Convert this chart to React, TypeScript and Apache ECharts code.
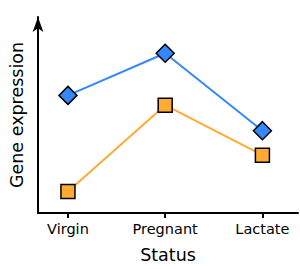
import React, { useEffect, useRef } from "react";
import * as echarts from "echarts";

const categories = ["Virgin", "Pregnant", "Lactate"];
const blueValues = [6.0, 8.15, 4.2];
const orangeValues = [1.1, 5.5, 2.95];

export default function App() {
  const ref = useRef<HTMLDivElement>(null);
  useEffect(() => {
    if (!ref.current) return;
    const chart = echarts.init(ref.current, null, { renderer: "svg" });
    const font = "DejaVu Sans";
    const idx = categories.map((_, i) => i);
    chart.setOption({
      animation: false,
      grid: { left: 37, right: 2, top: 17, bottom: 51, containLabel: false },
      xAxis: {
        type: "value",
        min: -0.308,
        max: 2.366,
        name: "Status",
        nameLocation: "middle",
        nameGap: 33,
        nameTextStyle: { fontFamily: font, fontSize: 17.5, color: "#000" },
        axisLine: { show: true, onZero: false, lineStyle: { color: "#000", width: 2 } },
        axisTick: { show: true, customValues: idx, length: 5, lineStyle: { color: "#000", width: 2 } },
        axisLabel: {
          show: true,
          customValues: idx,
          formatter: (v: number) => categories[Math.round(v)] ?? "",
          fontFamily: font,
          fontSize: 14.5,
          color: "#000",
          margin: 8,
        },
        splitLine: { show: false },
      },
      yAxis: {
        type: "value",
        min: 0,
        max: 10,
        name: "Gene expression",
        nameLocation: "middle",
        nameGap: 12,
        nameTextStyle: { fontFamily: font, fontSize: 17.5, color: "#000" },
        axisLine: {
          show: true,
          onZero: false,
          symbol: ["none", "arrow"],
          symbolSize: [8, 15],
          lineStyle: { color: "#000", width: 2 },
        },
        axisTick: { show: false },
        axisLabel: { show: false },
        splitLine: { show: false },
      },
      series: [
        {
          type: "line",
          data: idx.map((i) => [i, blueValues[i]]),
          symbol: "diamond",
          symbolSize: 18,
          lineStyle: { color: "#3388ff", width: 2 },
          itemStyle: { color: "#3388ff", borderColor: "#000", borderWidth: 1.5 },
          z: 3,
        },
        {
          type: "line",
          data: idx.map((i) => [i, orangeValues[i]]),
          symbol: "rect",
          symbolSize: 14,
          lineStyle: { color: "#ffaa33", width: 2 },
          itemStyle: { color: "#ffaa33", borderColor: "#000", borderWidth: 1.5 },
          z: 2,
        },
      ],
    });
    return () => chart.dispose();
  }, []);
  return <div ref={ref} style={{ width: 300, height: 269, position: "absolute", left: 0, top: 0 }} />;
}
